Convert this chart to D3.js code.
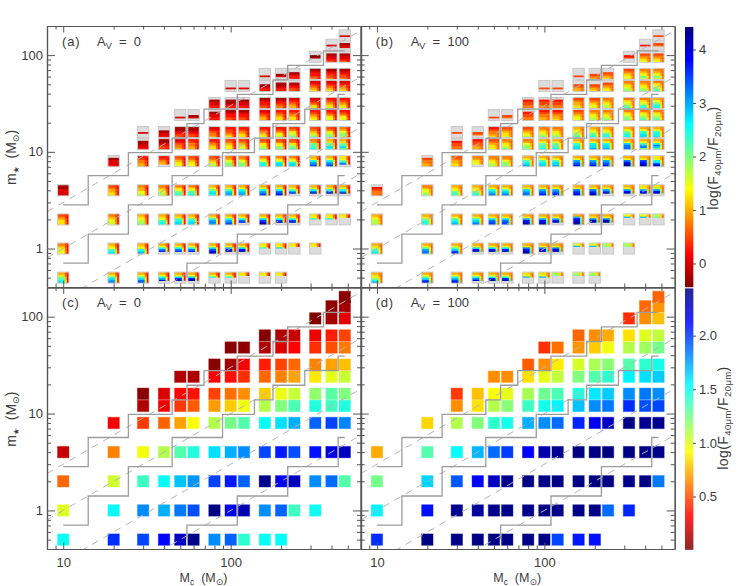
<!DOCTYPE html>
<html><head><meta charset="utf-8">
<script src="https://cdnjs.cloudflare.com/ajax/libs/d3/7.8.5/d3.min.js"></script>
<style>
html,body{margin:0;padding:0;background:#fff}
svg{display:block}
text{font-family:"Liberation Sans",sans-serif;fill:#3c3c3c}
.glyph{font-family:"DejaVu Sans",sans-serif}
</style></head><body>
<svg id="c" width="747" height="586"></svg>
<script>
const coreMass=[10,20,30,40,50,60,80,100,120,160,200,240,320,400,480];
const starMass=[0.5,1,2,4,8,12,16,24,32,48,64,96,128,160];
const firstCore=[0,0,0,0,1,2,2,4,6,7,9,12,13,14];
const lastCore=[10,12,14,14,14,14,14,14,14,14,14,14,14,14];

const ratioC=[
[1.5,2.03,1.97,2.13,2.28,2.42,1.8,1.9,1.42,1.5,1.52],
[1.0,1.52,1.8,1.72,1.85,1.95,2.43,2.2,2.32,1.8,1.9,1.38,1.5],
[.56,1.03,1.38,1.52,1.67,1.78,1.98,2.08,1.9,2.4,2.18,2.28,1.8,1.88,1.33],
[.18,.62,.95,1.1,1.33,1.45,1.6,1.72,1.8,1.97,2.08,1.95,2.1,2.2,2.28],
[.3,.45,.55,.7,.92,1.1,1.25,1.33,1.52,1.6,1.72,1.9,1.98,1.82],
[.12,.27,.45,.53,.68,.8,.95,1.1,1.22,1.35,1.45,1.38,1.45],
[.03,.22,.32,.35,.47,.58,.65,.8,.97,1.05,1.18,1.32,1.22],
[.12,.12,.3,.35,.42,.56,.62,.7,.87,.98,1.05],
[.03,.1,.3,.38,.47,.56,.62,.7,.77],
[.03,.05,.12,.23,.32,.42,.5,.6],
[.02,.12,.18,.28,.38,.47],
[.02,.1,.25],
[.05,.1],
[.03]];

const ratioD=[
[2.03,2.43,2.43,2.42,2.43,2.43,2.42,2.42,1.97,2.08,2.1],
[1.55,2.1,2.4,2.37,2.42,2.42,2.42,2.43,2.42,2.42,2.43,1.88,2.05],
[1.25,1.63,1.93,2.13,2.28,2.4,2.43,2.42,2.43,2.43,2.43,2.43,2.42,2.43,1.85],
[.72,1.33,1.52,1.7,1.88,2.0,2.15,2.33,2.4,2.43,2.43,2.43,2.43,2.42,2.42],
[.82,1.1,1.22,1.42,1.48,1.72,1.8,1.88,2.05,2.17,2.28,2.43,2.4,2.4],
[.65,.85,1.1,1.2,1.38,1.48,1.55,1.67,1.8,1.85,2.03,1.95,1.97],
[.45,.77,.93,.98,1.13,1.27,1.35,1.45,1.58,1.65,1.8,1.85,1.8],
[.65,.65,.85,.98,1.07,1.22,1.33,1.42,1.55,1.6,1.65],
[.53,.65,.88,1.02,1.12,1.2,1.33,1.42,1.48],
[.43,.58,.67,.8,.95,1.1,1.15,1.25],
[.56,.65,.72,.85,1.0,1.07],
[.42,.65,.77],
[.56,.67],
[.55]];

// each word is one small map: six bands, top to bottom, level = index in stampLevels; "." = no model
const stampsA=[
"67abcd 68bdef 68bdfg 68cei. 68dhj. 68dij. 68c... 68c... 78.... 78.... 78....",
"567888 678bcd 678cde 68cfh. 68cfh. 68cfh. 68dgij 68ehj. 68dhj. 78c... 78d... 78.... 78....",
"456777 567889 67899a 678bcc 67bcdd 67bcdd 68cefe 68cefg 68cfh. 68dgij 68cgj. 68cgi. 78c... 78c... 78....",
"112222 456677 566889 567899 578abb 578bbc 68acdc 68bdee 68cdee 68cefg 68cfgh 68beh. 68cfj. 68cfj. 68cej.",
".12223 345566 34566. 456788 456788 456799 5689aa 5689aa 578bcc 578cdd 578cdd 67cefg 68cefg 78adg.",
".11223 112344 234556 345566 345677 456788 456789 45789a 4578aa 4579ab 56abbc 67abdc 67abdb",
"...2.. ..1223 112344 112344 234556 344567 345677 345678 345789 45789a 45679a 4578aa 5689a9",
"....2. ...12. .12233 123344 123344 234566 345677 345677 345678 345788 345788",
".12233 .11233 .12233 123344 123455 234566 234577 345678 345678",
"....2. ....2. ..1233 .11233 .12344 234567 234567 234567",
"....2. ...12. ..1233 123345 123445 123445",
"..01.. .12234 .12234",
"...2.. ..122.",
"...2.."];

const stampsB=[
"678ace 68bdgh 68cegi 68cfi. 68chj. 68chj. 78e... 78e... 9a.... 9a.... 9a....",
"679bcd 68beff 68bdgh 68dhj. 68dhj. 68dhj. 68fhjj 68fij. 68fij. 8e.... 8e.... 9a.... 9a....",
"678999 67abcc 68bcde 68cdef 68dfgg 68dfgg 68ehij 68ehij 68ehj. 6ehijj 68fjj. 68fjj. 8e.... 8e.... 9a....",
".34555 56889a 678abb 678abc 68cdef 68bdef 68deff 68efgh 68efgh 68fghi 68fgij 68egj. 68ehj. 78ehj. 79ehj.",
".45566 456677 56788. 567899 5689aa 68bcde 68bcdd 68bdde 68efgh 68efgh 68efgh 68fhjj 68ghij 78cdhi",
".34455 344566 456778 56789a 5689aa 68abbc 68abbc 68bcdd 68cdde 68cdde 68dfff 68befa 68cfdb",
"...4.. ...45. 345567 456778 456789 56789a 56789a 6789ab 678abc 678acc 68abcc 68bcdd 68bccd",
"....4. ...45. .34455 345566 345667 456788 567899 56789a 5789aa 5789ab 5789ab",
".34455 .34455 .34455 456677 456788 567899 5789ab 5789bc 689bcc",
"....4. ....4. ..4566 ..4567 .45678 56789a 56789a 5789ab",
"....4. ...456 ..4567 456788 5678a9 5678a9",
"..34.. .45678 .45678",
"...3.. ..45..",
"...4.."];

const stampLevels="0123456789abcdefghij";
const levelValue=[-.5,-.25,0,.25,.5,.75,1,1.25,1.5,1.75,2,2.25,2.5,2.75,3,3.25,3.5,3.75,4,4.25];
const sideA=[.3,.12,.3,.12,.3,.12];
const sideB=[.75,.6,.75,.6,.75,.6];

const stepLines=[
[[10,2.83],[14.1,2.83],[14.1,5.66],[24.5,5.66],[24.5,9.8],[44.7,9.8],[44.7,13.86],[54.8,13.86],[54.8,19.6],[69.3,19.6],[69.3,27.7],[109.5,27.7],[109.5,39.2],[178.9,39.2],[178.9,55.4],[219,55.4],[219,78.4],[358,78.4],[358,110.8],[480,110.8]],
[[10,.707],[14.1,.707],[14.1,1.41],[24.5,1.41],[24.5,2.83],[44.7,2.83],[44.7,5.66],[89.4,5.66],[89.4,9.8],[138.6,9.8],[138.6,13.86],[178.9,13.86],[178.9,19.6],[277,19.6],[277,27.7],[438,27.7],[438,39.2],[480,39.2]],
[[54.8,.5],[54.8,.707],[109.5,.707],[109.5,1.41],[219,1.41],[219,2.83],[438,2.83],[438,5.66],[480,5.66]]];
const dashRatios=[.3,.1,.03,.01];

const xMajor=[10,100];
const xMinor=[9,20,30,40,50,60,70,80,90,200,300,400,500];
const yMajor=[1,10,100];
const yMinor=[.5,.6,.7,.8,.9,2,3,4,5,6,7,8,9,20,30,40,50,60,70,80,90];

const panels=[
{id:"(a)",av:"0",kind:"stamp",stamps:stampsA,side:sideA,x0:47,x1:361,y0:26,y1:287,labelY:true,labelX:false},
{id:"(b)",av:"100",kind:"stamp",stamps:stampsB,side:sideB,x0:360.7,x1:674.7,y0:26,y1:287,labelY:false,labelX:false},
{id:"(c)",av:"0",kind:"square",values:ratioC,x0:47,x1:361,y0:287.5,y1:549,labelY:true,labelX:true},
{id:"(d)",av:"100",kind:"square",values:ratioD,x0:360.7,x1:674.7,y0:287.5,y1:549,labelY:false,labelX:true}
];

function jet(t){
  t=Math.max(0,Math.min(1,t));
  const u=1-t, c=v=>Math.round(255*Math.max(0,Math.min(1,v)));
  return d3.rgb(c(1.5-Math.abs(4*u-3)),c(1.5-Math.abs(4*u-2)),c(1.5-Math.abs(4*u-1)));
}
const topT=d3.scaleLinear().domain([-.44,4.42]).range([0,1]);
const botT=d3.scaleLinear().domain([.01,2.44]).range([0,1]);
const topColor=v=>jet(topT(v));
const botColor=v=>jet(botT(v));

const svg=d3.select("#c");
const GRAY="#dcdcdc", FRAME="#c8c8c8";
const bandY=d3.scaleBand().domain(d3.range(6)).range([1,11]);
const colX=d3.scaleBand().domain(d3.range(5)).range([1,11.3]);
const colMix=[1,1,1,.45,0];

panels.forEach((p,pi)=>{
  const x=d3.scaleLog().domain([8,600]).range([p.x0,p.x1]);
  const y=d3.scaleLog().domain([.4,200]).range([p.y1,p.y0]);
  const g=svg.append("g");
  const clipId="clip"+pi;
  svg.append("clipPath").attr("id",clipId).append("rect")
    .attr("x",p.x0).attr("y",p.y0).attr("width",p.x1-p.x0).attr("height",p.y1-p.y0);

  starMass.forEach((m,ri)=>{
    const cores=coreMass.slice(firstCore[ri],lastCore[ri]+1);
    if(p.kind==="square"){
      g.append("g").selectAll("rect").data(cores).join("rect")
        .attr("x",c=>x(c)-5.7).attr("y",y(m)-5.7).attr("width",11.4).attr("height",11.4)
        .attr("fill",(c,i)=>botColor(p.values[ri][i]))
        .attr("stroke",(c,i)=>botColor(p.values[ri][i]))
        .attr("stroke-opacity",.4).attr("stroke-width",1);
    } else {
      const words=p.stamps[ri].split(" ");
      cores.forEach((c,i)=>{
        const s=g.append("g").attr("transform",`translate(${x(c)-6.15},${y(m)-6})`);
        s.append("rect").attr("x",.5).attr("y",.5).attr("width",11.3).attr("height",11)
          .attr("fill",GRAY).attr("stroke",FRAME).attr("stroke-width",1);
        const word=words[i].split("");
        // painted bottom-right to top-left so each cell overlaps the seam of the next
        d3.range(word.length-1,-1,-1).forEach(b=>{
          const ch=word[b];
          if(ch===".")return;
          const main=levelValue[stampLevels.indexOf(ch)];
          d3.range(colMix.length-1,-1,-1).forEach(k=>{
            const mix=colMix[k];
            const side=Math.min(main,p.side[b]);
            const lastRow=b===word.length-1||word[b+1]===".";
            s.append("rect").attr("x",colX(k)).attr("y",bandY(b))
              .attr("width",colX.bandwidth()+(k<colMix.length-1?.5:0))
              .attr("height",bandY.bandwidth()+(lastRow?0:.5))
              .attr("fill",topColor(side+(main-side)*mix));
          });
        });
      });
    }
  });

  const overlay=svg.append("g").attr("clip-path",`url(#${clipId})`);
  const line=d3.line().x(d=>x(d[0])).y(d=>y(d[1]));
  dashRatios.forEach(r=>{
    overlay.append("path").attr("d",line([[8,8*r],[600,600*r]]))
      .attr("fill","none").attr("stroke","#b4b4b4").attr("stroke-width",1).attr("stroke-dasharray","7 6");
  });
  stepLines.forEach(s=>{
    overlay.append("path").attr("d",line(s)).attr("fill","none")
      .attr("stroke","#9c9c9c").attr("stroke-width",1.3);
  });

  // axes
  const AX="#555";
  function style(a){
    a.selectAll(".domain").attr("stroke",AX).attr("stroke-width",1.2);
    a.selectAll(".tick line").attr("stroke",AX).attr("stroke-width",1);
    a.selectAll(".tick text").style("font-size","13px").attr("fill","#3c3c3c");
    a.attr("font-family",null).attr("font-size",null);
  }
  const none=()=>"";
  const at=(tr)=>svg.append("g").attr("transform",tr);
  const fmt=d3.format("d");
  style(at(`translate(0,${p.y1})`).call(d3.axisBottom(x).tickValues(xMinor).tickSizeInner(-3.5).tickSizeOuter(0).tickFormat(none)));
  style(at(`translate(0,${p.y1})`).call(d3.axisBottom(x).tickValues(xMajor).tickSizeInner(-6.5).tickSizeOuter(0).tickPadding(9).tickFormat(p.labelX?fmt:none)));
  style(at(`translate(0,${p.y0})`).call(d3.axisTop(x).tickValues(xMinor).tickSizeInner(-3.5).tickSizeOuter(0).tickFormat(none)));
  style(at(`translate(0,${p.y0})`).call(d3.axisTop(x).tickValues(xMajor).tickSizeInner(-6.5).tickSizeOuter(0).tickFormat(none)));
  style(at(`translate(${p.x0},0)`).call(d3.axisLeft(y).tickValues(yMinor).tickSizeInner(-4).tickSizeOuter(0).tickFormat(none)));
  style(at(`translate(${p.x0},0)`).call(d3.axisLeft(y).tickValues(yMajor).tickSizeInner(-8).tickSizeOuter(0).tickPadding(4).tickFormat(p.labelY?fmt:none)));
  style(at(`translate(${p.x1},0)`).call(d3.axisRight(y).tickValues(yMinor).tickSizeInner(-4).tickSizeOuter(0).tickFormat(none)));
  style(at(`translate(${p.x1},0)`).call(d3.axisRight(y).tickValues(yMajor).tickSizeInner(-8).tickSizeOuter(0).tickFormat(none)));

  const ly=p.y0+19.5;
  svg.append("text").attr("x",p.x0+15).attr("y",ly).attr("font-size",13).attr("letter-spacing",.8).text(p.id);
  const t=svg.append("text").attr("x",p.x0+50).attr("y",ly).attr("font-size",13);
  t.append("tspan").text("A");
  t.append("tspan").attr("dy",3).attr("font-size",9).text("V");
  t.append("tspan").attr("dy",-3).text("\u00A0\u00A0=\u00A0\u00A0"+p.av);

  if(p.labelX){
    const lx=svg.append("text").attr("x",(p.x0+p.x1)/2-0.5).attr("y",581.5).attr("text-anchor","middle").attr("font-size",12.5);
    lx.append("tspan").text("M");
    lx.append("tspan").attr("dy",3).attr("font-size",8.5).text("c");
    lx.append("tspan").attr("dy",-3).text("\u00A0\u00A0(M");
    lx.append("tspan").attr("dy",3).attr("font-size",9).attr("class","glyph").text("\u2299");
    lx.append("tspan").attr("dy",-3).text(")");
  }
  if(p.labelY){
    const cy=(p.y0+p.y1)/2+1;
    const ty=svg.append("text").attr("transform",`translate(15.5,${cy}) rotate(-90)`).attr("text-anchor","middle").attr("font-size",14);
    ty.append("tspan").text("m");
    ty.append("tspan").attr("dy",3).attr("font-size",8).attr("class","glyph").text("\u2605");
    ty.append("tspan").attr("dy",-3).text("\u00A0\u00A0(M");
    ty.append("tspan").attr("dy",3).attr("font-size",9).attr("class","glyph").text("\u2299");
    ty.append("tspan").attr("dy",-3).text(")");
  }
});

const barTicksTop=[0,1,2,3,4];
const barTicksBot=[.5,1,1.5,2];
const bars=[
 {lo:-.44,hi:4.42,y0:27,y1:287,color:topColor,ticks:barTicksTop,fmt:d3.format("d"),titleX:718,titleY:158},
 {lo:.01,hi:2.44,y0:288.5,y1:549,color:botColor,ticks:barTicksBot,fmt:d3.format(".1f"),titleX:728,titleY:418}
];
bars.forEach(b=>{
  const s=d3.scaleLinear().domain([b.lo,b.hi]).range([b.y1,b.y0]);
  const slices=d3.range(b.y1-b.y0);
  svg.append("g").selectAll("rect").data(slices).join("rect")
    .attr("x",685).attr("width",8.3).attr("y",i=>b.y0+i).attr("height",1.2)
    .attr("fill",i=>b.color(s.invert(b.y0+i+.5)));
  const a=svg.append("g").attr("transform","translate(693,0)")
    .call(d3.axisRight(s).tickValues(b.ticks).tickSize(3).tickPadding(3).tickFormat(b.fmt));
  a.select(".domain").remove();
  a.selectAll(".tick line").attr("stroke","#4a4a4a");
  a.selectAll(".tick text").style("font-size","13px").attr("fill","#3c3c3c");
  a.attr("font-family",null).attr("font-size",null);
  const t=svg.append("text").attr("transform",`translate(${b.titleX},${b.titleY}) rotate(-90)`)
    .attr("text-anchor","middle").attr("font-size",14).attr("letter-spacing",.4);
  t.append("tspan").text("log(F");
  t.append("tspan").attr("dy",3).attr("font-size",9.5).text("40\u03BCm");
  t.append("tspan").attr("dy",-3).text("/F");
  t.append("tspan").attr("dy",3).attr("font-size",9.5).text("20\u03BCm");
  t.append("tspan").attr("dy",-3).text(")");
});
</script></body></html>
